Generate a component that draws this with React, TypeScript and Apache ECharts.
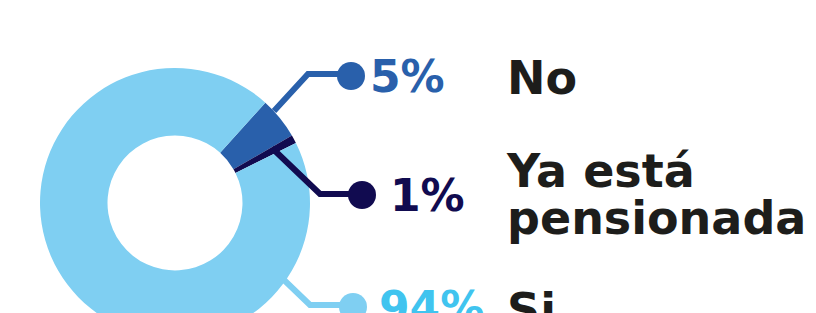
import React, { useEffect, useRef } from 'react';
import * as echarts from 'echarts';

// ---- data ----
const categories = ['No', 'Ya está pensionada', 'Si'];
const values = [5, 1, 94];
const sliceColors = ['#2960AB', '#110B50', '#7FCFF2'];
const pctColors = ['#2960AB', '#110B50', '#40C4EF'];

// ---- layout (px) ----
const CENTER = [175, 203];
const RADIUS = [67.5, 135];
const START_ANGLE = 48;
const leaderPoints = [
  [[274, 111], [308, 74], [351, 74]],
  [[272, 148], [320, 194], [362, 194]],
  [[283, 279], [310, 305], [353, 305]],
];
const pctLabelPos = [[337, 76], [348, 195], [339, 307]];
const pctGap = [5, 14, 12];
const NAME_X = 507;
const nameY = [78, 194, 310];
const FONT = 'DejaVu Sans';
const FS = 44;
const NAME_FS = 46;

export default function App() {
  const ref = useRef<HTMLDivElement>(null);
  useEffect(() => {
    if (!ref.current) return;
    const chart = echarts.init(ref.current, undefined, { renderer: 'svg' });
    const rich: any = {};
    sliceColors.forEach((c, i) => {
      rich['d' + i] = { width: 28, height: 28, borderRadius: 14, backgroundColor: c, verticalAlign: 'middle' };
      rich['p' + i] = {
        fontSize: FS, fontWeight: 'bold', fontFamily: FONT, color: pctColors[i],
        padding: [0, 0, 0, pctGap[i]], verticalAlign: 'middle', lineHeight: FS,
      };
    });
    const common = {
      type: 'pie',
      center: CENTER,
      radius: RADIUS,
      startAngle: START_ANGLE,
      clockwise: true,
      avoidLabelOverlap: false,
      minShowLabelAngle: 0,
      silent: true,
      emphasis: { disabled: true },
    };
    chart.setOption({
      animation: false,
      backgroundColor: '#ffffff',
      series: [
        {
          ...common,
          z: 2,
          data: categories.map((name, i) => ({ name, value: values[i], itemStyle: { color: sliceColors[i] } })),
          label: {
            show: true,
            position: 'outer',
            formatter: '{b}',
            fontSize: NAME_FS,
            fontWeight: 'bold',
            fontFamily: FONT,
            color: '#1d1d1b',
            lineHeight: 47,
            width: 330,
            overflow: 'break',
          },
          labelLine: { show: false },
          labelLayout: (p: any) => ({
            x: NAME_X,
            y: nameY[p.dataIndex],
            align: 'left',
            verticalAlign: 'middle',
          }),
        },
        {
          ...common,
          z: 3,
          itemStyle: { color: 'rgba(0,0,0,0)' },
          data: categories.map((name, i) => ({
            name,
            value: values[i],
            labelLine: { lineStyle: { color: sliceColors[i] } },
          })),
          label: {
            show: true,
            position: 'outer',
            formatter: (p: any) => `{d${p.dataIndex}|}{p${p.dataIndex}|${p.value}%}`,
            rich,
          },
          labelLine: {
            show: true,
            length: 10,
            length2: 10,
            smooth: false,
            lineStyle: { width: 6, cap: 'butt', join: 'miter' },
          },
          labelLayout: (p: any) => ({
            x: pctLabelPos[p.dataIndex][0],
            y: pctLabelPos[p.dataIndex][1],
            align: 'left',
            verticalAlign: 'middle',
            labelLinePoints: leaderPoints[p.dataIndex],
          }),
        },
      ],
    });
    return () => chart.dispose();
  }, []);
  return (
    <div
      ref={ref}
      style={{ position: 'fixed', left: 0, top: 0, width: 816, height: 313, background: '#fff' }}
    />
  );
}
